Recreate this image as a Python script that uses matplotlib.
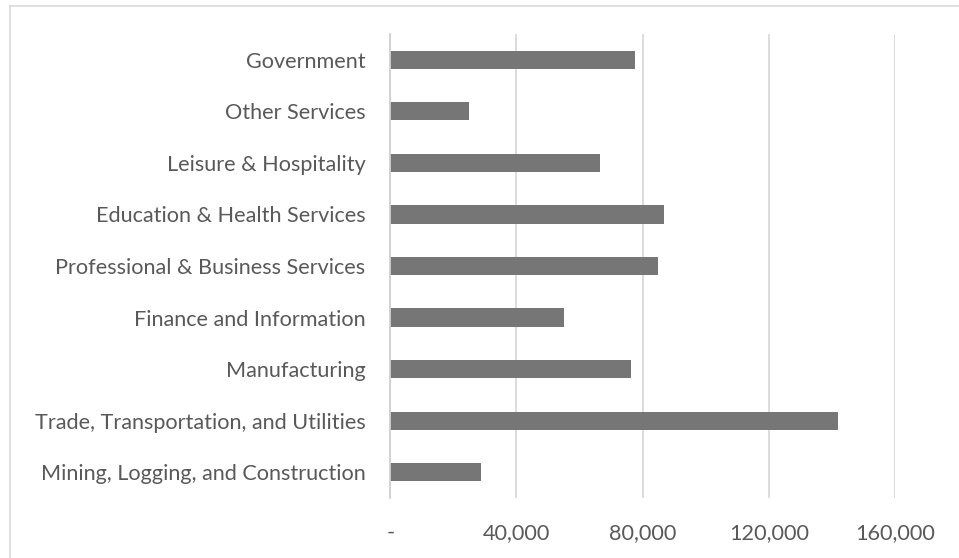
import matplotlib
matplotlib.use("Agg")
import matplotlib.pyplot as plt
from matplotlib.lines import Line2D
from matplotlib.ticker import FuncFormatter

categories = [
    "Mining, Logging, and Construction",
    "Trade, Transportation, and Utilities",
    "Manufacturing",
    "Finance and Information",
    "Professional & Business Services",
    "Education & Health Services",
    "Leisure & Hospitality",
    "Other Services",
    "Government",
]
values = [28650, 141900, 76400, 55050, 84850, 86850, 66400, 24850, 77650]
xticks = [0, 40000, 80000, 120000, 160000]

W, H = 959, 558
fig = plt.figure(figsize=(W / 100, H / 100), dpi=100)
fig.patch.set_facecolor("white")
ax = fig.add_axes([390.3 / W, (H - 498) / H, (895 - 390.3) / W, (498 - 34) / H])

family = ["Lato", "DejaVu Sans"]
# fit font size so the longest label matches the reference width (~324 px)
r = fig.canvas.get_renderer()
t = fig.text(0, 0, "Mining, Logging, and Construction", fontsize=14, family=family)
w = t.get_window_extent(renderer=r).width
t.remove()
fs = 14 * 326 / w

ypos = list(range(len(categories)))
ax.barh(ypos, values, height=0.355, color="#767676", zorder=3)
ax.set_ylim(-0.5, len(categories) - 0.5)
ax.set_xlim(0, 160000)
ax.set_yticks(ypos)
ax.set_yticklabels(categories, family=family, fontsize=fs, color="#595959")
ax.set_xticks(xticks)
ax.xaxis.set_major_formatter(FuncFormatter(lambda v, p: "-" if v == 0 else f"{int(v):,}"))
for lab in ax.get_xticklabels():
    lab.set_family(family)
    lab.set_fontsize(fs)
    lab.set_color("#595959")
ax.tick_params(axis="both", length=0)
ax.tick_params(axis="y", pad=18)
ax.tick_params(axis="x", pad=18)
ax.grid(axis="x", color="#d9d9d9", linewidth=1.3, zorder=0)
for s in ["top", "right", "bottom"]:
    ax.spines[s].set_visible(False)
ax.spines["left"].set_color("#d0d0d0")
ax.spines["left"].set_linewidth(1.3)
ax.spines["left"].set_zorder(4)

# chart border (left and top visible)
fig.add_artist(Line2D([9.5 / W, 9.5 / W], [0, 1 - 5.5 / H], transform=fig.transFigure, color="#d9d9d9", lw=1.2))
fig.add_artist(Line2D([9.5 / W, 1], [1 - 5.5 / H, 1 - 5.5 / H], transform=fig.transFigure, color="#d9d9d9", lw=1.2))

fig.savefig("out.png", dpi=100)
